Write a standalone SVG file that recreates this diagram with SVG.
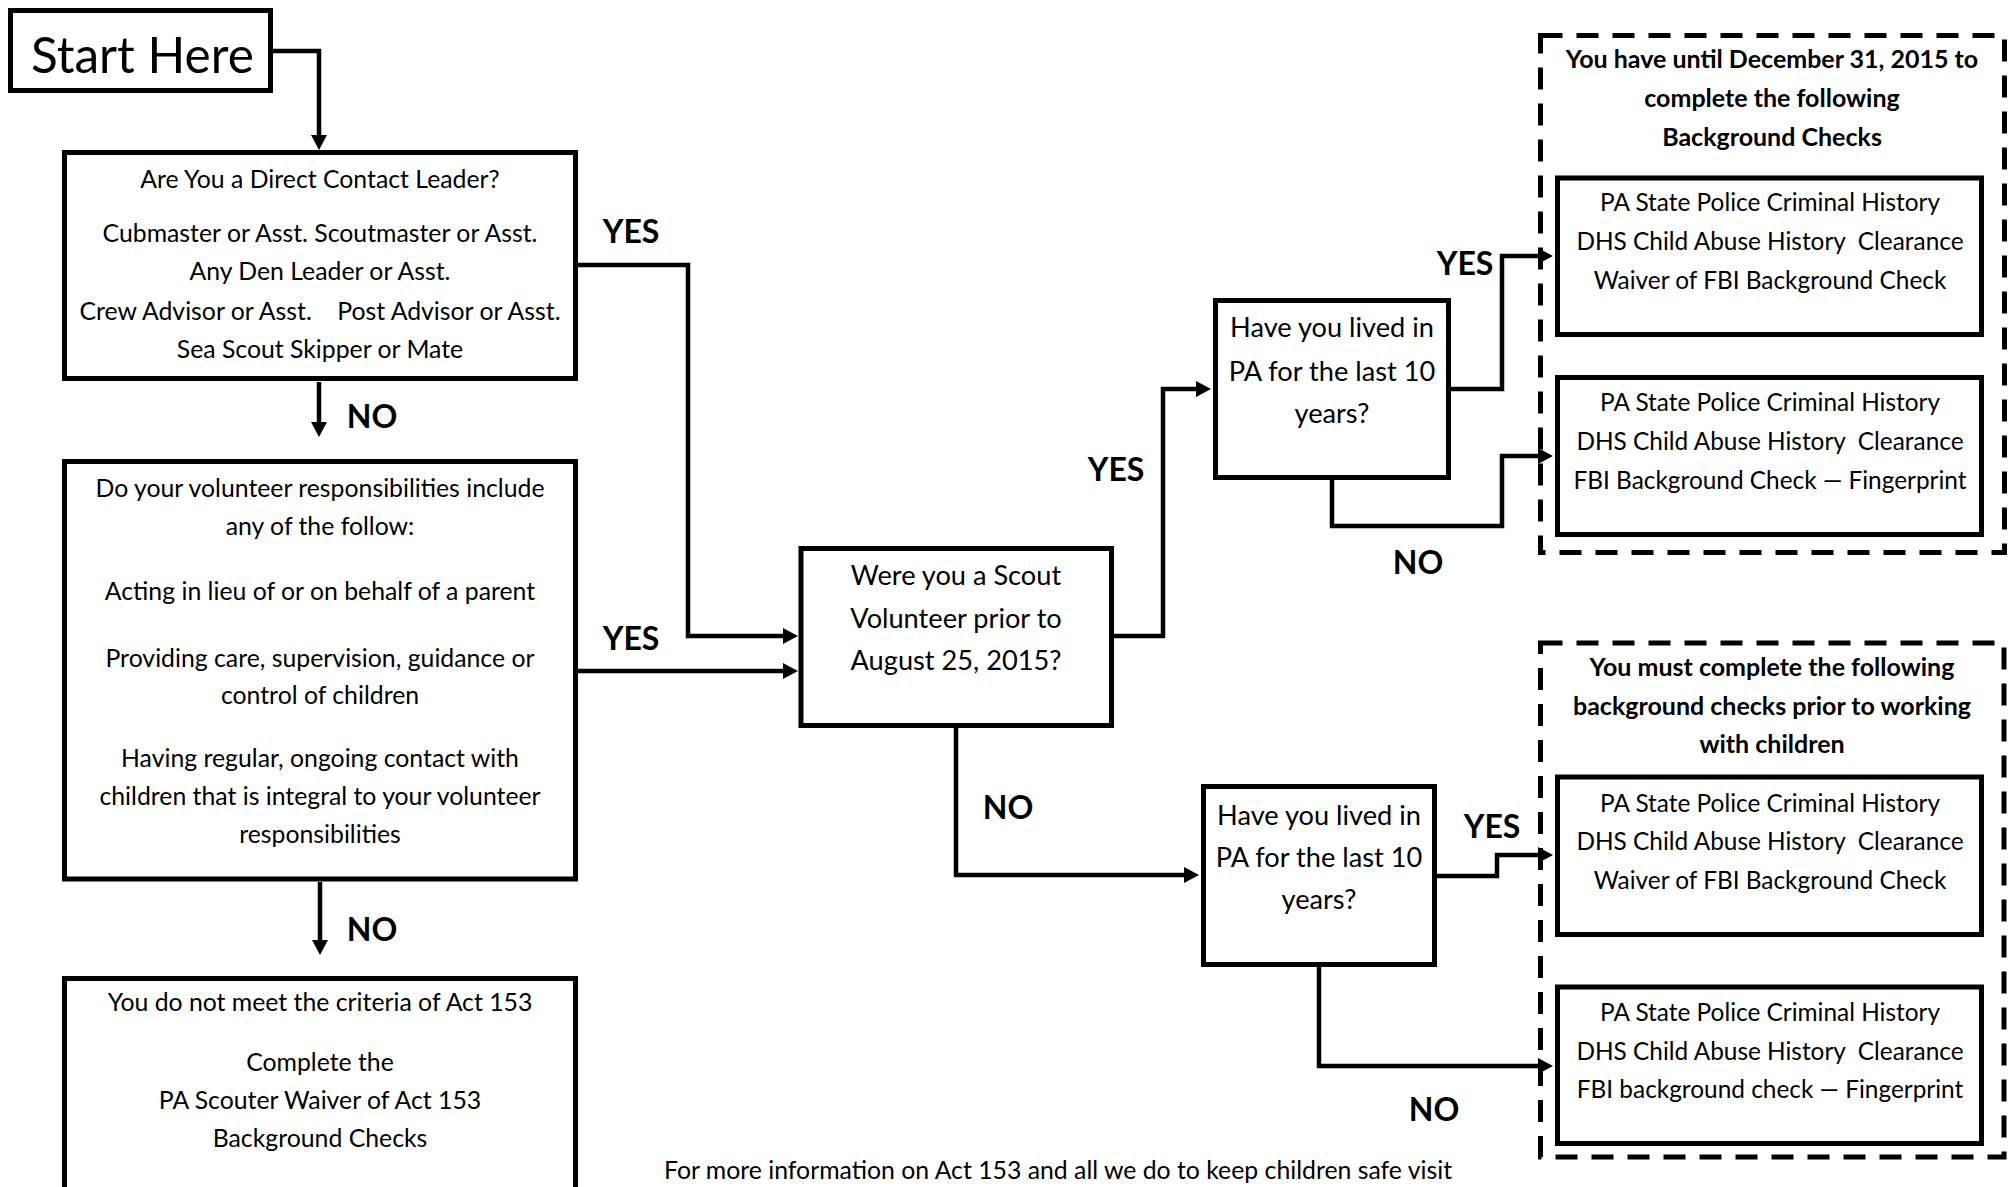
<svg xmlns="http://www.w3.org/2000/svg" width="2009" height="1187" viewBox="0 0 2009 1187">
<style>
text{font-family:Lato,"Open Sans","Liberation Sans",sans-serif;fill:#000;text-anchor:middle;white-space:pre}
.t{font-size:24.8px}
.r{font-size:24.4px}
.q{font-size:27.2px}
.hd{font-size:25px;font-weight:bold}
.lbl{font-size:32px;font-weight:bold}
.st{font-size:49.5px;text-anchor:start}
.box{fill:#fff;stroke:#000;stroke-width:5}
.dash{fill:none;stroke:#000;stroke-width:5;stroke-dasharray:22 14}
.c{fill:none;stroke:#000;stroke-width:4.5;stroke-linejoin:miter}
</style>
<defs>
<marker id="ah" markerUnits="userSpaceOnUse" markerWidth="16" markerHeight="16" refX="5" refY="8" orient="auto" overflow="visible">
<path d="M0,0 L15,8 L0,16 z" fill="#000"/>
</marker>
</defs>
<rect width="2009" height="1187" fill="#fff"/>

<g id="connectors">
<path class="c" d="M273,51 H319 V140" marker-end="url(#ah)"/>
<path class="c" d="M319,382 V427" marker-end="url(#ah)"/>
<path class="c" d="M320,882 V945" marker-end="url(#ah)"/>
<path class="c" d="M578,265 H688 V636 H788" marker-end="url(#ah)"/>
<path class="c" d="M578,671 H788" marker-end="url(#ah)"/>
<path class="c" d="M1114,636 H1163 V389 H1201" marker-end="url(#ah)"/>
<path class="c" d="M956,728 V875 H1189" marker-end="url(#ah)"/>
<path class="c" d="M1451,389 H1502 V256 H1543" marker-end="url(#ah)"/>
<path class="c" d="M1332,480 V526 H1502 V456 H1543" marker-end="url(#ah)"/>
<path class="c" d="M1437,876 H1497 V855 H1543" marker-end="url(#ah)"/>
<path class="c" d="M1319,967 V1066 H1543" marker-end="url(#ah)"/>
<text class="lbl" x="631" y="243">YES</text>
<text class="lbl" x="631" y="650">YES</text>
<text class="lbl" x="372" y="428">NO</text>
<text class="lbl" x="372" y="941">NO</text>
<text class="lbl" x="1116" y="481">YES</text>
<text class="lbl" x="1008" y="819">NO</text>
<text class="lbl" x="1465" y="275">YES</text>
<text class="lbl" x="1418" y="574">NO</text>
<text class="lbl" x="1492" y="838">YES</text>
<text class="lbl" x="1434" y="1121">NO</text>
</g>

<g id="start">
<rect class="box" x="10.5" y="10.5" width="260" height="80"/>
<text class="st" x="31" y="73">Start Here</text>
</g>

<g id="direct-contact">
<rect class="box" x="64.5" y="152.5" width="511" height="226"/>
<text class="t" x="320" y="188">Are You a Direct Contact Leader?</text>
<text class="t" x="320" y="242">Cubmaster or Asst. Scoutmaster or Asst.</text>
<text class="t" x="320" y="280">Any Den Leader or Asst.</text>
<text class="t" x="320" y="320">Crew Advisor or Asst.    Post Advisor or Asst.</text>
<text class="t" x="320" y="358">Sea Scout Skipper or Mate</text>
</g>

<g id="responsibilities">
<rect class="box" x="64.5" y="461.5" width="511" height="417.5"/>
<text class="t" x="320" y="497">Do your volunteer responsibilities include</text>
<text class="t" x="320" y="535">any of the follow:</text>
<text class="t" x="320" y="600">Acting in lieu of or on behalf of a parent</text>
<text class="t" x="320" y="667">Providing care, supervision, guidance or</text>
<text class="t" x="320" y="704">control of children</text>
<text class="t" x="320" y="767">Having regular, ongoing contact with</text>
<text class="t" x="320" y="805">children that is integral to your volunteer</text>
<text class="t" x="320" y="843">responsibilities</text>
</g>

<g id="not-meet">
<rect class="box" x="64.5" y="978.5" width="511" height="240"/>
<text class="t" x="320" y="1011">You do not meet the criteria of Act 153</text>
<text class="t" x="320" y="1071">Complete the</text>
<text class="t" x="320" y="1109">PA Scouter Waiver of Act 153</text>
<text class="t" x="320" y="1147">Background Checks</text>
</g>

<g id="scout-volunteer">
<rect class="box" x="801" y="548.5" width="310.5" height="177"/>
<text class="q" x="956" y="585">Were you a Scout</text>
<text class="q" x="956" y="628">Volunteer prior to</text>
<text class="q" x="956" y="670">August 25, 2015?</text>
</g>

<g id="lived-pa-upper">
<rect class="box" x="1215.5" y="300.5" width="233" height="177"/>
<text class="q" x="1332" y="337">Have you lived in</text>
<text class="q" x="1332" y="381">PA for the last 10</text>
<text class="q" x="1332" y="423">years?</text>
</g>

<g id="lived-pa-lower">
<rect class="box" x="1203.5" y="786.5" width="231" height="178"/>
<text class="q" x="1319" y="825">Have you lived in</text>
<text class="q" x="1319" y="867">PA for the last 10</text>
<text class="q" x="1319" y="909">years?</text>
</g>

<g id="group-until-2015">
<rect class="dash" x="1540.5" y="35.5" width="464" height="517"/>
<text class="hd" x="1772" y="68">You have until December 31, 2015 to</text>
<text class="hd" x="1772" y="107">complete the following</text>
<text class="hd" x="1772" y="146">Background Checks</text>
</g>

<g id="check-a">
<rect class="box" x="1557.5" y="178" width="424" height="156.5"/>
<text class="r" x="1770" y="211">PA State Police Criminal History</text>
<text class="r" x="1770" y="250">DHS Child Abuse History  Clearance</text>
<text class="r" x="1770" y="289">Waiver of FBI Background Check</text>
</g>

<g id="check-b">
<rect class="box" x="1557.5" y="377.5" width="424" height="157"/>
<text class="r" x="1770" y="411">PA State Police Criminal History</text>
<text class="r" x="1770" y="450">DHS Child Abuse History  Clearance</text>
<text class="r" x="1770" y="489">FBI Background Check — Fingerprint</text>
</g>

<g id="group-prior-to-working">
<rect class="dash" x="1540.5" y="643" width="463.5" height="514"/>
<text class="hd" x="1772" y="676">You must complete the following</text>
<text class="hd" x="1772" y="714.5">background checks prior to working</text>
<text class="hd" x="1772" y="752.5">with children</text>
</g>

<g id="check-c">
<rect class="box" x="1557.5" y="777" width="424" height="157.5"/>
<text class="r" x="1770" y="811.5">PA State Police Criminal History</text>
<text class="r" x="1770" y="850">DHS Child Abuse History  Clearance</text>
<text class="r" x="1770" y="889">Waiver of FBI Background Check</text>
</g>

<g id="check-d">
<rect class="box" x="1557.5" y="987" width="424" height="156.5"/>
<text class="r" x="1770" y="1021">PA State Police Criminal History</text>
<text class="r" x="1770" y="1060">DHS Child Abuse History  Clearance</text>
<text class="r" x="1770" y="1098">FBI background check — Fingerprint</text>
</g>

<g id="footer">
<text class="t" x="1058" y="1179">For more information on Act 153 and all we do to keep children safe visit</text>
</g>
</svg>
